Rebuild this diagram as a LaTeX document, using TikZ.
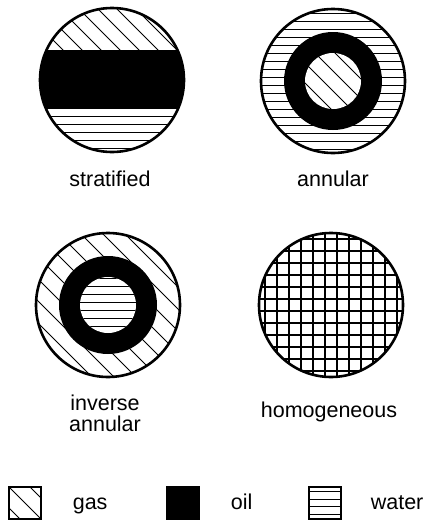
\documentclass[tikz,border=0pt]{standalone}
\usepackage{fontspec}
\setmainfont{Liberation Sans}
\usetikzlibrary{positioning, calc}
\newcommand\phasefont{\fontsize{21.5}{21}\selectfont}

\begin{document}
\begin{tikzpicture}[
        x=1pt, y=-1pt,
        pipewall/.style={
            line width=2.6pt
        },
        gasline/.style={
            line width=0.8pt
        },
        waterline/.style={
            line width=0.8pt
        },
        gridline/.style={
            line width=1.6pt
        },
        oilfill/.style={
            fill=black
        },
        caption/.style={
            font=\phasefont,
            align=center,
            inner sep=0pt
        },
        keybox/.style={
            draw,
            line width=1.2pt,
            minimum width=32pt,
            minimum height=32pt,
            inner sep=0pt
        }
    ]

        \useasboundingbox (0,0) rectangle (425,522);

        \coordinate (strat) at (112,80);
        \coordinate (annul) at (333,81);
        \coordinate (invann) at (108,305);
        \coordinate (homog) at (331,305);

        % ---------------------------------------------------------------------
        % Stratified: gas on top, oil band, water below
        % ---------------------------------------------------------------------

        \begin{scope}[shift={(strat)}]
            \begin{scope}
                \clip (0,0) circle[radius=72pt];
                \begin{scope}
                    \clip (-72,-72) rectangle (72,-30);
                    \foreach \k in {-6,...,6}
                        \draw[gasline] (19*\k-80,-80) -- ++(160,160);
                \end{scope}
                \fill[oilfill] (-72,-30) rectangle (72,29);
                \foreach \y in {36,44,...,68}
                    \draw[waterline] (-72,\y) -- (72,\y);
            \end{scope}
            \draw[pipewall] (0,0) circle[radius=72pt];
        \end{scope}

        % ---------------------------------------------------------------------
        % Annular: gas core, oil ring, water at the wall
        % ---------------------------------------------------------------------

        \begin{scope}[shift={(annul)}]
            \begin{scope}
                \clip (0,0) circle[radius=72pt];
                \foreach \y in {-68,-60,...,68}
                    \draw[waterline] (-72,\y) -- (72,\y);
            \end{scope}
            \fill[oilfill] (0,0) circle[radius=49pt];
            \fill[white] (0,0) circle[radius=28pt];
            \begin{scope}
                \clip (0,0) circle[radius=28pt];
                \foreach \k in {-3,...,3}
                    \draw[gasline] (20*\k-50,-40) -- ++(80,80);
            \end{scope}
            \draw[pipewall] (0,0) circle[radius=72pt];
        \end{scope}

        % ---------------------------------------------------------------------
        % Inverse annular: water core, oil ring, gas at the wall
        % ---------------------------------------------------------------------

        \begin{scope}[shift={(invann)}]
            \begin{scope}
                \clip (0,0) circle[radius=72pt];
                \foreach \k in {-7,...,7}
                    \draw[gasline] (22*\k-80,-80) -- ++(160,160);
            \end{scope}
            \fill[oilfill] (0,0) circle[radius=49pt];
            \fill[white] (0,0) circle[radius=28pt];
            \begin{scope}
                \clip (0,0) circle[radius=28pt];
                \foreach \y in {-27,-19,...,29}
                    \draw[waterline] (-28,\y) -- (28,\y);
            \end{scope}
            \draw[pipewall] (0,0) circle[radius=72pt];
        \end{scope}

        % ---------------------------------------------------------------------
        % Homogeneous: fine grid
        % ---------------------------------------------------------------------

        \begin{scope}[shift={(homog)}]
            \begin{scope}
                \clip (0,0) circle[radius=72pt];
                \foreach \t in {-66,-54,...,66} {
                    \draw[gridline] (\t,-72) -- (\t,72);
                    \draw[gridline] (-72,\t) -- (72,\t);
                }
            \end{scope}
            \draw[pipewall] (0,0) circle[radius=72pt];
        \end{scope}

        % ---------------------------------------------------------------------
        % Captions
        % ---------------------------------------------------------------------

        \node[caption, anchor=base] (stratlabel) at (110,186) {stratified};
        \node[caption, anchor=base] (annullabel) at (333,186) {annular};
        \node[caption, anchor=base] (invannlabel) at (105,431) {inverse\\annular};
        \node[caption, anchor=base] (homoglabel) at (329,417) {homogeneous};

        % ---------------------------------------------------------------------
        % Legend
        % ---------------------------------------------------------------------

        \node[
            keybox,
            path picture={
                \draw[gasline] (path picture bounding box.north west)
                    -- (path picture bounding box.south east);
                \draw[gasline] ($(path picture bounding box.north west)+(21,0)$)
                    -- ++(40,40);
                \draw[gasline] ($(path picture bounding box.north west)+(-21,0)$)
                    -- ++(40,40);
            }
        ] (gasbox) at (25,503) {};

        \node[
            keybox,
            oilfill
        ] (oilbox) at (183,503) {};

        \node[
            keybox,
            path picture={
                \foreach \y in {-11.5,-4,3.5,11}
                    \draw[waterline] ($(path picture bounding box.west)+(0,\y)$)
                        -- ++(40,0);
            }
        ] (waterbox) at (325,503) {};

        \node[
            caption,
            right=31pt of gasbox,
            anchor=mid west,
            yshift=-4pt
        ] (gaslabel) {gas};

        \node[
            caption,
            right=31pt of oilbox,
            anchor=mid west,
            yshift=-4pt
        ] (oillabel) {oil};

        \node[
            caption,
            right=29pt of waterbox,
            anchor=mid west,
            yshift=-4pt
        ] (waterlabel) {water};

    \end{tikzpicture}
\end{document}
